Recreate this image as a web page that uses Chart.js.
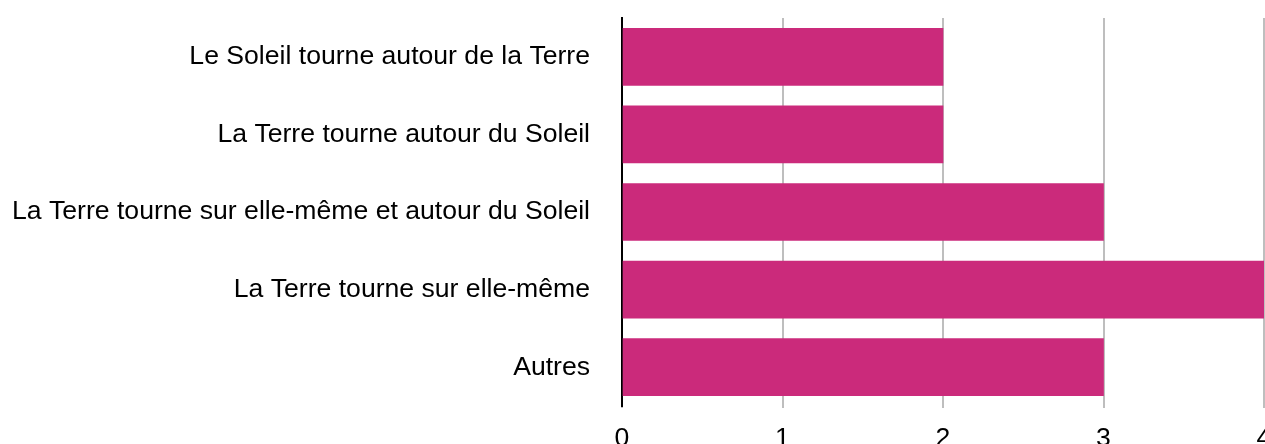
<!DOCTYPE html>
<html>
<head>
<meta charset="utf-8">
<script src="https://cdn.jsdelivr.net/npm/chart.js@4"></script>
<style>
html, body { margin: 0; padding: 0; background: #fff; }
#wrap { width: 1265px; height: 444px; }
</style>
</head>
<body>
<div id="wrap"><canvas id="chart"></canvas></div>
<script>
var categories = [
    "Le Soleil tourne autour de la Terre",
    "La Terre tourne autour du Soleil",
    "La Terre tourne sur elle-même et autour du Soleil",
    "La Terre tourne sur elle-même",
    "Autres"
];
var values = [2, 2, 3, 4, 3];
var xMin = 0;
var xMax = 4;

var fontFamily = "Helvetica, Arial, 'Liberation Sans', sans-serif";

var ctx = document.getElementById("chart");
var chart = new Chart(ctx, {
    type: "bar",
    data: {
        labels: categories,
        datasets: [{
            data: values,
            backgroundColor: "#cb2a7b",
            borderWidth: 0,
            barThickness: 57
        }]
    },
    options: {
        indexAxis: "y",
        responsive: true,
        maintainAspectRatio: false,
        animation: false,
        layout: {
            padding: { top: 18, left: 0, right: 1, bottom: 0 }
        },
        plugins: {
            legend: { display: false },
            tooltip: { enabled: false }
        },
        scales: {
            x: {
                min: xMin,
                max: xMax,
                ticks: {
                    stepSize: 1,
                    color: "#000",
                    padding: 15,
                    font: { family: fontFamily, size: 26.6 }
                },
                grid: {
                    color: "#bebebe",
                    lineWidth: 2,
                    drawTicks: true,
                    tickLength: 2
                },
                border: { display: false },
                afterFit: function(s) {
                    s.height = 38;
                    s.paddingLeft = 0;
                    s.paddingRight = 0;
                }
            },
            y: {
                ticks: {
                    color: "#000",
                    padding: 32,
                    font: { family: fontFamily, size: 26.6 }
                },
                grid: { display: false, drawTicks: false },
                border: { display: true, color: "#000", width: 2 },
                afterFit: function(s) {
                    s.width = 622;
                    s.paddingTop = 0;
                    s.paddingBottom = 0;
                }
            }
        }
    }
});
</script>
</body>
</html>
